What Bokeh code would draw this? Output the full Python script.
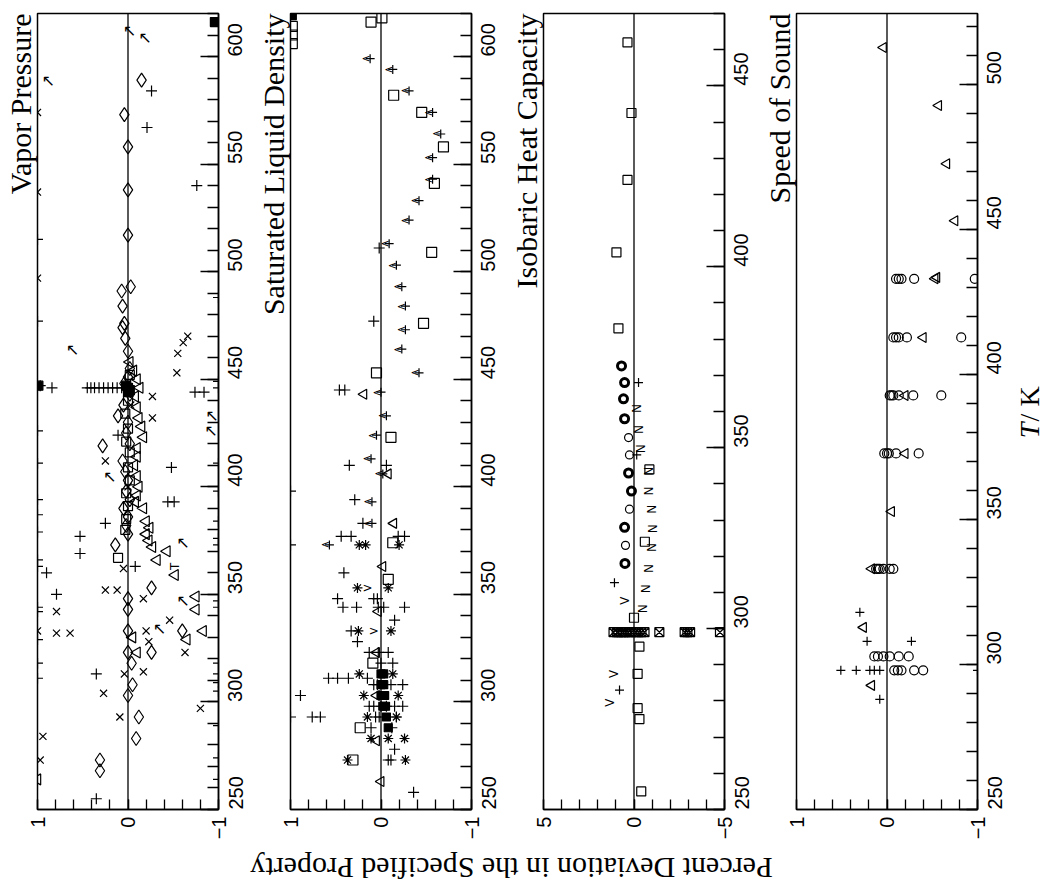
import math
from bokeh.plotting import figure
from bokeh.layouts import row, column
from bokeh.models import Range1d, FixedTicker, SingleIntervalTicker, Span
from bokeh.core.properties import value
from bokeh.embed import file_html
from bokeh.resources import INLINE

# ---------------- data: (T / K, percent deviation) ----------------
# Vapor Pressure
vp_plus = [(515, 1.0), (477, 1.0), (447, 1.0), (426, 1.0), (411, 1.0), (394, 1.0), (387, 1.0), (379, 1.0),
           (366, 1.0), (363, 1.0), (344, 1.0), (342, 1.0), (329, 1.0), (318, 1.0), (311, 1.0),
           (446, 0.45), (446, 0.41), (446, 0.37), (446, 0.32), (446, 0.27), (446, 0.22), (446, 0.17),
           (446, 0.12), (446, 0.07), (446, 0.84), (447, 0.97),
           (584, -0.26), (567, -0.21), (540, -0.76), (424, 0.11), (444, -0.74), (444, -0.84), (409, -0.48),
           (393, -0.44), (393, -0.51), (383, 0.25), (377, 0.53), (369, 0.53), (360, 0.90), (350, 0.79),
           (363, -0.08), (313, 0.35), (255, 0.35),
           (488, -1.0), (449, -1.0), (446, -1.0), (411, -1.0), (398, -1.0), (384, -1.0), (376, -1.0),
           (373, -1.0), (347, -1.0), (344, -1.0), (318, -1.0), (313, -1.0), (309, -1.0), (305, -1.0),
           (289, -1.0), (274, -1.0), (264, -1.0)]
vp_x = [(574, 1.0), (537, 1.0), (497, 1.0), (333, 1.0), (284, 0.94), (273, 0.97),
        (342, 0.79), (332, 0.79), (332, 0.64), (352, 0.25), (352, 0.12), (348, -0.17), (333, -0.20),
        (328, -0.23), (314, -0.17), (313, 0.04), (304, 0.27), (293, 0.09), (338, -0.46), (323, -0.63),
        (297, -0.80), (412, 0.25), (442, -0.27), (432, -0.27), (462, -0.55), (453, -0.54), (467, -0.61),
        (470, -0.66), (362, 0.05), (400, 0.0), (438, -0.03)]
vp_diamond = [(589, -0.15), (573, 0.04), (558, 0.0), (538, 0.0), (517, 0.0), (493, -0.03), (491, 0.07),
              (484, 0.06), (476, 0.04), (474, 0.06), (469, 0.03), (463, 0.0), (455, -0.02), (451, 0.0),
              (448, 0.04), (443, -0.02), (438, 0.05), (433, 0.11), (430, 0.0), (425, 0.02), (420, -0.02),
              (419, 0.28), (412, 0.06), (407, 0.03), (403, 0.0), (398, 0.02), (394, -0.02), (390, 0.05),
              (386, 0.0), (382, 0.02), (378, 0.0), (373, 0.14), (353, -0.26), (348, 0.0), (343, 0.0),
              (333, 0.0), (323, 0.0), (318, -0.04), (308, -0.05), (303, 0.0), (323, -0.26), (293, -0.12),
              (283, -0.09), (273, 0.31), (268, 0.31), (333, -0.60)]
vp_tri = [(458, -0.02), (454, -0.06), (450, -0.10), (446, -0.13), (442, -0.08), (437, -0.10), (432, -0.12),
          (428, -0.15), (423, -0.17), (418, -0.10), (414, -0.10), (410, -0.07), (405, -0.10), (400, -0.12),
          (396, -0.10), (393, -0.08), (390, -0.17), (384, -0.20), (381, -0.24), (378, -0.20), (375, -0.23),
          (372, -0.27), (370, -0.43), (366, -0.32), (329, -0.65), (333, -0.83), (343, -0.75), (349, -0.75),
          (359, -0.52), (330, -0.05), (323, -0.10), (264, 1.0)]
vp_square = [(367, 0.11), (380, 0.03), (385, 0.02), (391, 0.0), (397, 0.02), (403, -0.02), (409, 0.0),
             (416, -0.02), (421, 0.02), (427, 0.0), (434, 0.03), (440, 0.0), (452, -0.02)]
vp_filled = [(446, 0.0), (447, 0.02), (445, -0.02), (444, 0.0), (616, -0.96), (447, 0.99)]
vp_arrow = [(612, -0.02), (609, -0.19), (589, 0.88), (464, 0.61), (433, -0.93), (405, 0.20), (334, -0.35),
            (347, -0.61), (374, -0.61), (426, -0.92)]
vp_tee = [(363, -0.52)]

# Saturated Liquid Density
sld_plus = [(398, 1.0), (373, 1.0), (293, 1.0),
            (511, 0.02), (477, 0.08), (445, 0.46), (445, 0.40), (410, 0.35), (410, -0.06), (394, 0.29),
            (383, 0.20), (377, 0.44), (377, 0.33), (377, -0.26), (377, -0.19), (360, 0.41), (348, 0.48),
            (348, 0.08), (348, 0.04), (344, 0.42), (344, 0.27), (344, 0.03), (344, -0.03), (344, -0.26),
            (338, -0.15), (333, 0.33), (328, 0.26), (323, 0.13), (323, 0.03), (323, -0.08), (318, 0.0),
            (318, -0.13), (311, 0.58), (311, 0.48), (311, 0.36), (311, 0.15), (308, 0.08), (308, 0.04),
            (308, -0.11), (308, -0.24), (303, 0.89), (298, 0.13), (298, 0.08), (298, 0.0), (298, -0.06),
            (298, -0.15), (298, -0.24), (293, 0.76), (293, 0.67), (293, 0.06), (293, 0.02), (293, -0.17),
            (288, 0.11), (288, -0.12), (278, -0.15), (273, -0.08), (273, -0.11), (258, -0.36)]
sld_star = [(373, 0.24), (373, 0.17), (373, -0.20), (353, 0.26), (353, -0.08), (333, 0.25), (333, -0.11),
            (313, 0.24), (313, -0.13), (303, 0.19), (303, -0.19), (293, 0.15), (293, -0.17), (283, 0.11),
            (283, -0.08), (283, -0.26), (273, 0.37), (273, -0.27)]
sld_square = [(614, 0.98), (610, 0.98), (606, 0.98), (616, 0.11), (618, -0.01), (582, -0.14), (574, -0.45),
              (558, -0.69), (541, -0.59), (509, -0.56), (476, -0.47), (453, 0.05), (423, -0.11),
              (374, -0.13), (357, -0.08), (318, 0.09), (288, 0.23), (273, 0.31)]
sld_filled = [(619, 0.98), (313, 0.0), (313, -0.03), (308, 0.0), (308, -0.03), (303, 0.0), (303, -0.04),
              (298, -0.02), (298, -0.05), (293, -0.06), (288, -0.08)]
sld_tri = [(443, 0.19), (406, -0.08), (383, -0.14), (363, -0.02), (342, 0.03), (323, 0.05), (303, 0.05),
           (282, 0.05), (263, 0.0)]
sld_arrowplus = [(599, 0.12), (594, -0.13), (584, -0.31), (574, -0.57), (564, -0.66), (553, -0.57),
                 (543, -0.57), (533, -0.42), (524, -0.31), (513, -0.09), (503, -0.17), (493, -0.23),
                 (484, -0.27), (473, -0.27), (464, -0.23), (453, -0.42), (444, 0.0), (433, -0.06),
                 (424, 0.05), (413, 0.11), (406, -0.02), (393, 0.10), (383, 0.10), (373, 0.57)]
sld_gt = [(353, 0.15), (333, 0.08)]

# Isobaric Heat Capacity
cp_square = [(462, 0.36), (442.5, 0.14), (424, 0.36), (404, 0.97), (383, 0.86), (344, -0.85), (324, -0.60),
             (303, 0.0), (295, -0.30), (287.5, -0.20), (278, -0.20), (275, -0.30), (255, -0.40)]
cp_circle_bold = [(372.6, 0.69), (368, 0.52), (363.5, 0.58), (358, 0.52), (343, 0.30), (338, 0.14),
                  (328, 0.52), (318, 0.50)]
cp_circle = [(352.8, 0.30), (348, 0.25), (333, 0.25), (323, 0.47)]
cp_N = [(360.8, -0.14), (355, -0.30), (349.7, -0.41), (343.5, -0.85), (338, -0.85), (333, -0.97),
        (327.6, -1.07), (322.4, -0.97), (316.6, -0.85), (311, -0.69), (305.5, -0.52)]
cp_plus = [(368, -0.25), (312.7, 1.08), (283, 0.80), (348, -0.15)]
cp_V = [(307.7, 0.52), (287.5, 1.08), (279.5, 1.35)]
cp_bow = [(299, 1.13), (299, 0.95), (299, 0.86), (299, 0.70), (299, 0.58), (299, 0.45), (299, 0.30),
          (299, 0.14), (299, -0.10), (299, -0.25), (299, -0.41), (299, -0.58), (299, -1.40), (299, -2.80),
          (299, -2.95), (299, -3.10), (299, -4.75)]

# Speed of Sound
sos_tri = [(512.8, 0.04), (492.8, -0.57), (472.7, -0.66), (453, -0.75), (433, -0.53), (433.5, -0.55),
           (412.8, -0.40), (392.8, -0.20), (372.8, -0.20), (352.8, -0.05), (333, 0.17), (312.8, 0.26),
           (292.8, 0.17)]
sos_circle = [(433, -0.10), (433, -0.13), (433, -0.16), (433, -0.30), (433, -0.97),
              (412.8, -0.07), (412.8, -0.10), (412.8, -0.13), (412.8, -0.22), (412.8, -0.82),
              (392.8, -0.03), (392.8, -0.05), (392.8, -0.07), (392.8, -0.13), (392.8, -0.29), (392.8, -0.60),
              (372.8, 0.03), (372.8, 0.0), (372.8, -0.02), (372.8, -0.10), (372.8, -0.35),
              (333, 0.12), (333, 0.10), (333, 0.08), (333, 0.04), (333, -0.03), (333, -0.07),
              (302.8, 0.14), (302.8, 0.10), (302.8, 0.04), (302.8, -0.03), (302.8, -0.13), (302.8, -0.24),
              (298, -0.08), (298, -0.12), (298, -0.16), (298, -0.30), (298, -0.40)]
sos_plus = [(318, 0.30), (308, 0.22), (308, -0.27), (298, 0.51), (298, 0.34), (298, 0.19), (298, 0.14),
            (298, 0.08), (298, -1.0), (288, 0.08)]

titles = ["Vapor Pressure", "Saturated Liquid Density", "Isobaric Heat Capacity", "Speed of Sound"]
t_max = [620, 620, 470, 524.5]
dev_lim = [1, 1, 5, 1]
y_label = "Percent Deviation in the Specified Property"

SERIF = "Liberation Serif"
SANS = "Liberation Sans Narrow, Liberation Sans, Arial, sans-serif"
LW = 1.2


def split(pairs):
    return [d for t, d in pairs], [t for t, d in pairs]


def panel(title, tmax, lim, left, right):
    p = figure(frame_width=181, frame_height=796,
               x_range=Range1d(lim, -lim), y_range=Range1d(250, tmax),
               x_axis_location="below", y_axis_location="right",
               output_backend="svg", toolbar_location=None,
               min_border_left=left, min_border_right=right,
               min_border_top=13, min_border_bottom=36,
               title=title, title_location="left")
    p.title.text_font = SERIF
    p.title.text_font_size = "30px"
    p.title.text_font_style = "normal"
    p.title.text_color = "black"
    p.title.align = "right"
    p.title.standoff = 2
    p.title.offset = 0
    p.grid.visible = False
    p.outline_line_color = "black"
    p.outline_line_width = 1.5
    p.background_fill_color = "white"
    p.border_fill_color = "white"

    xa = p.xaxis[0]
    step = lim / 5
    minor = [round(-lim + i * step, 6) for i in range(11)]
    xa.ticker = FixedTicker(ticks=[-lim, 0, lim], minor_ticks=minor)
    xa.major_label_overrides = {lim: str(lim), 0: "0", -lim: "\u2212" + str(lim)}
    xa.major_tick_in = 10
    xa.major_tick_out = 0
    xa.minor_tick_in = 10
    xa.minor_tick_out = 0
    xa.major_label_orientation = math.pi / 2
    xa.major_label_standoff = 7
    xa.major_label_text_font = SANS
    xa.major_label_text_font_size = "20px"
    xa.major_label_text_color = "black"
    xa.axis_line_width = 1.5
    xa.major_tick_line_width = 1.3
    xa.minor_tick_line_width = 1.3

    ya = p.yaxis[0]
    ya.ticker = SingleIntervalTicker(interval=50, num_minor_ticks=5)
    ya.major_tick_in = 18
    ya.major_tick_out = 0
    ya.minor_tick_in = 11
    ya.minor_tick_out = 0
    ya.major_label_orientation = math.pi / 2
    ya.major_label_standoff = 17
    ya.major_label_text_font = SANS
    ya.major_label_text_font_size = "20px"
    ya.major_label_text_color = "black"
    ya.axis_line_width = 1.5
    ya.major_tick_line_width = 1.3
    ya.minor_tick_line_width = 1.3

    p.add_layout(Span(location=0, dimension="height", line_color="black", line_width=1.3))
    return p


def mark(p, pairs, marker, size, angle=0.0, fill=None, lw=LW):
    x, y = split(pairs)
    p.scatter(x=x, y=y, marker=marker, size=size, angle=angle, line_color="black",
              fill_color=fill if fill else "white", fill_alpha=1.0 if fill else 0.0, line_width=lw)


def sym(p, pairs, s, size="12px", angle=0.0, x_offset=0, font="DejaVu Sans"):
    x, y = split(pairs)
    p.text(x=x, y=y, text=[s] * len(x), angle=angle, x_offset=x_offset,
           text_align="center", text_baseline="middle", text_font=value(font),
           text_font_size=size, text_color="black")


LEFT = math.pi / 2

p1 = panel(titles[0], t_max[0], dev_lim[0], 37, 35)
mark(p1, vp_plus, "cross", 11)
mark(p1, vp_x, "x", 10)
mark(p1, vp_diamond, "diamond", 14)
mark(p1, vp_tri, "triangle", 11, angle=LEFT)
mark(p1, vp_square, "square", 9)
mark(p1, vp_filled, "square", 9, fill="black")
sym(p1, vp_arrow, "\u2196", size="16px")
sym(p1, vp_tee, "T", size="12px", angle=LEFT)

p2 = panel(titles[1], t_max[1], dev_lim[1], 37, 35)
mark(p2, sld_plus, "cross", 11)
mark(p2, sld_star, "asterisk", 10)
mark(p2, sld_square, "square", 10)
mark(p2, sld_filled, "square", 8, fill="black")
mark(p2, sld_tri, "triangle", 10, angle=LEFT)
mark(p2, sld_arrowplus, "cross", 9)
sym(p2, sld_arrowplus, "<", size="11px", x_offset=-4)
sym(p2, sld_gt, ">", size="12px")

p3 = panel(titles[2], t_max[2], dev_lim[2], 37, 35)
mark(p3, cp_square, "square", 9)
mark(p3, cp_circle_bold, "circle", 8, lw=3)
mark(p3, cp_circle, "circle", 8)
mark(p3, cp_plus, "cross", 9)
mark(p3, cp_bow, "square_x", 9)
sym(p3, cp_N, "N", size="12px", angle=LEFT)
sym(p3, cp_V, "V", size="12px", angle=LEFT)

p4 = panel(titles[3], t_max[3], dev_lim[3], 37, 35)
mark(p4, sos_tri, "triangle", 10, angle=LEFT)
mark(p4, sos_circle, "circle", 9)
mark(p4, sos_plus, "cross", 9)

# right-hand "T / K" label
pt = figure(width=35, height=845, x_range=Range1d(0, 35), y_range=Range1d(0, 845),
            x_axis_location=None, y_axis_location=None, output_backend="svg",
            toolbar_location=None, min_border=0)
pt.grid.visible = False
pt.outline_line_color = None
pt.text(x=[17], y=[394], text=["T"], angle=LEFT, text_align="left", text_baseline="middle",
        text_font=value(SERIF), text_font_size="28px", text_font_style="italic")
pt.text(x=[17], y=[412], text=["/ K"], angle=LEFT, text_align="left", text_baseline="middle",
        text_font=value(SERIF), text_font_size="28px")

# bottom (upside-down) label
pb = figure(width=1047, height=45, x_range=Range1d(0, 1047), y_range=Range1d(0, 45),
            x_axis_location=None, y_axis_location=None, output_backend="svg",
            toolbar_location=None, min_border=0)
pb.grid.visible = False
pb.outline_line_color = None
pb.text(x=[511], y=[22], text=[y_label], angle=math.pi, text_align="center", text_baseline="middle",
        text_font=value(SERIF), text_font_size="30px")

layout = column(row(p1, p2, p3, p4, pt), pb)
open("out.html", "w").write(file_html(layout, INLINE))
